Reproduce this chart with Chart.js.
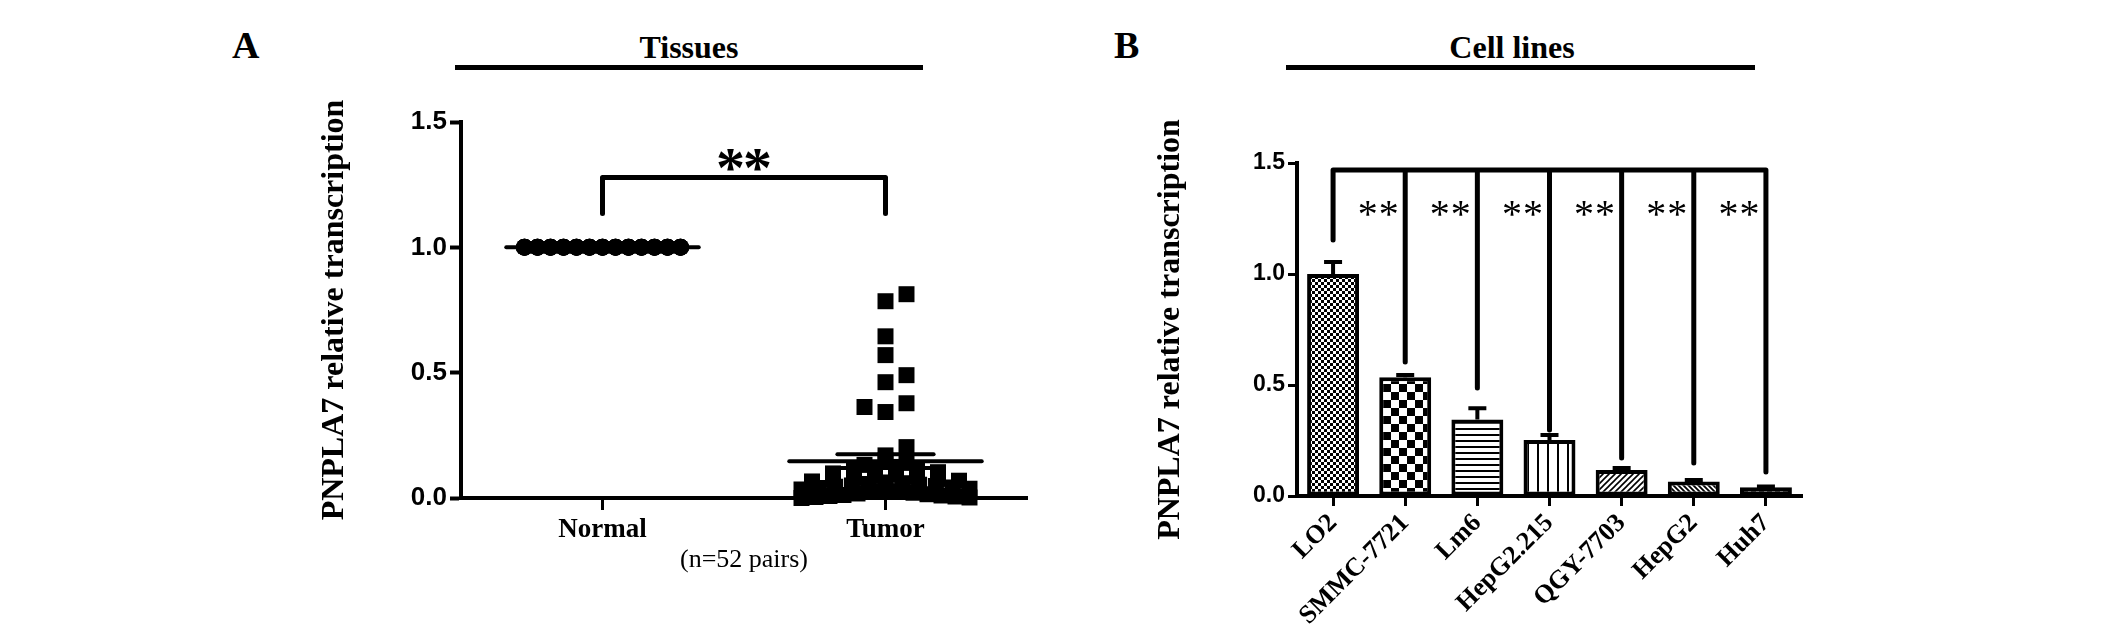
<!DOCTYPE html>
<html>
<head>
<meta charset="utf-8">
<title>PNPLA7 relative transcription</title>
<script src="https://cdn.jsdelivr.net/npm/chart.js@4.4.1/dist/chart.umd.min.js"></script>
<style>
  body { margin: 0; background: #fff; }
  #page { position: relative; width: 2126px; height: 641px; overflow: hidden; font-family: 'Liberation Serif', 'Times New Roman', serif; color: #000; }
  #page canvas { position: absolute; top: 0; }
  #chartA { left: 0; }
  #chartB { left: 1063px; }
  .panel-letter { position: absolute; font-weight: bold; font-size: 38px; line-height: 38px; }
  .panel-head { position: absolute; font-weight: bold; font-size: 32px; line-height: 32px; text-align: center; }
  .head-rule { position: absolute; height: 5px; background: #000; }
</style>
</head>
<body>
<div id="page">
  <div class="panel-letter" style="left:232px;top:26px">A</div>
  <div class="panel-head" style="left:455px;width:468px;top:31px">Tissues</div>
  <div class="head-rule" style="left:455px;width:468px;top:65px"></div>

  <div class="panel-letter" style="left:1114px;top:26px">B</div>
  <div class="panel-head" style="left:1400px;width:224px;top:31px">Cell lines</div>
  <div class="head-rule" style="left:1286px;width:469px;top:65px"></div>

  <canvas id="chartA" width="1063" height="641"></canvas>
  <canvas id="chartB" width="1063" height="641"></canvas>
</div>
<script>
// ---- data ----
const tissueGroups = ['Normal', 'Tumor'];
const normalValues = [
  1, 1, 1, 1, 1, 1, 1, 1, 1, 1, 1, 1, 1,
  1, 1, 1, 1, 1, 1, 1, 1, 1, 1, 1, 1, 1,
  1, 1, 1, 1, 1, 1, 1, 1, 1, 1, 1, 1, 1,
  1, 1, 1, 1, 1, 1, 1, 1, 1, 1, 1, 1, 1
];
const tumorValues = [
  0.813, 0.785, 0.645, 0.57, 0.49, 0.462, 0.378, 0.363, 0.343, 0.203,
  0.17, 0.15, 0.14, 0.132, 0.124, 0.118, 0.113, 0.108, 0.103, 0.098,
  0.093, 0.088, 0.084, 0.08, 0.076, 0.072, 0.069, 0.066, 0.062, 0.059,
  0.056, 0.053, 0.05, 0.048, 0.045, 0.042, 0.04, 0.037, 0.034, 0.03,
  0.027, 0.024, 0.021, 0.018, 0.015, 0.012, 0.01, 0.008, 0.006, 0.004,
  0.002, 0.0
];
const tissueBracket = [1.135, 1.279];   // leg end, bar height

const cellLines = ['LO2', 'SMMC-7721', 'Lm6', 'HepG2.215', 'QGY-7703', 'HepG2', 'Huh7'];
const cellMeans = [1.0, 0.535, 0.345, 0.252, 0.117, 0.065, 0.039];
const cellSem = [0.054, 0.01, 0.05, 0.023, 0.009, 0.007, 0.004];
const cellBracketTop = 1.468;
const cellBracketEnds = [1.153, 0.604, 0.486, 0.297, 0.171, 0.149, 0.108];
const starLevel = [1.35, 1.297];        // tissues, cell lines

const yTickValues = [0, 0.5, 1.0, 1.5];

// ---- helpers ----
function mean(a) { return a.reduce((s, v) => s + v, 0) / a.length; }
function sem(a) {
  const m = mean(a);
  const sd = Math.sqrt(a.reduce((s, v) => s + (v - m) * (v - m), 0) / (a.length - 1));
  return sd / Math.sqrt(a.length);
}
function segment(points, width) {
  return {
    type: 'line', data: points, borderColor: '#000', borderWidth: width,
    pointRadius: 0, fill: false, tension: 0, clip: false, order: 1,
    borderCapStyle: 'round', borderJoinStyle: 'round', spanGaps: false
  };
}

Chart.defaults.animation = false;
Chart.defaults.color = '#000';
Chart.defaults.plugins.legend.display = false;
Chart.defaults.plugins.tooltip.enabled = false;

const serif = "'Liberation Serif', 'Times New Roman', serif";
const sans = "'Liberation Sans', Arial, sans-serif";

// column scatter: points binned into rows, crowded rows spread and centred,
// lone points nudged sideways when they would sit on a neighbour
const swarmPlugin = {
  id: 'swarm',
  afterDatasetsUpdate(chart) {
    const bottom = chart.scales.y.getPixelForValue(0);
    chart.data.datasets.forEach((ds, di) => {
      if (!ds.swarm) return;
      const meta = chart.getDatasetMeta(di);
      const {pitch, maxSlots, rowHeight, squeeze, size} = ds.swarm;
      const rows = {};
      meta.data.forEach((el, i) => {
        const r = Math.floor((bottom - el.y) / rowHeight);
        (rows[r] = rows[r] || []).push(i);
      });
      const lone = [];
      Object.keys(rows).map(Number).sort((a, b) => a - b).forEach(r => {
        const idx = rows[r].sort((a, b) => meta.data[a].y - meta.data[b].y);
        const n = idx.length;
        if (n <= 2) {
          idx.forEach(i => {
            const el = meta.data[i];
            let off = 0;
            for (let k = 0; k <= 2 * maxSlots; k++) {
              const c = (k === 0 ? 0 : (k % 2 ? (k + 1) / 2 : -k / 2)) * pitch;
              const hit = lone.some(p => Math.abs(p.off - c) < 0.9 * size && Math.abs(p.y - el.y) < 0.9 * size);
              if (!hit) { off = c; break; }
            }
            lone.push({off, y: el.y});
            el.x += off;
          });
          return;
        }
        const k = squeeze ? n : Math.min(n, maxSlots);
        const step = (squeeze && n > maxSlots) ? pitch * (maxSlots - 1) / (n - 1) : pitch;
        const slots = [];
        for (let j = 0; j < k; j++) slots.push((j - (k - 1) / 2) * step);
        slots.sort((a, b) => Math.abs(a) - Math.abs(b) || b - a);
        idx.forEach((i, j) => { meta.data[i].x += slots[j % k]; });
      });
    });
  }
};

// significance asterisks
const starsPlugin = {
  id: 'stars',
  afterDatasetsDraw(chart, args, opts) {
    if (!opts.marks) return;
    const {ctx, scales: {x, y}} = chart;
    ctx.save();
    ctx.fillStyle = '#000';
    ctx.font = opts.font;
    ctx.textAlign = 'center';
    ctx.textBaseline = 'alphabetic';
    const m = ctx.measureText('*');
    const shift = (m.actualBoundingBoxAscent - m.actualBoundingBoxDescent) / 2;
    opts.marks.forEach(mk => {
      const px = x.getPixelForValue(mk.x);
      const py = y.getPixelForValue(mk.y) + shift;
      ctx.fillText('*', px - opts.gap / 2, py);
      ctx.fillText('*', px + opts.gap / 2, py);
    });
    ctx.restore();
  }
};

// upper SEM bars on the cell line columns
const errorBarPlugin = {
  id: 'errorBars',
  afterDatasetsDraw(chart) {
    const meta = chart.getDatasetMeta(0);
    const yScale = chart.scales.y;
    const ctx = chart.ctx;
    ctx.save();
    ctx.strokeStyle = '#000';
    ctx.lineWidth = 4;
    meta.data.forEach((bar, i) => {
      const top = yScale.getPixelForValue(cellMeans[i] + cellSem[i]);
      ctx.beginPath();
      ctx.moveTo(bar.x, bar.y);
      ctx.lineTo(bar.x, top);
      ctx.moveTo(bar.x - 9, top);
      ctx.lineTo(bar.x + 9, top);
      ctx.stroke();
    });
    ctx.restore();
  }
};

// ---------------- A: tissues ----------------
const normalMean = mean(normalValues), normalSem = sem(normalValues);
const tumorMean = mean(tumorValues), tumorSem = sem(tumorValues);
const meanHalf = 0.34, semHalf = 0.17;

function summaryLines(pos, m, e) {
  return [
    segment([{x: pos - meanHalf, y: m}, {x: pos + meanHalf, y: m}], 4),
    segment([{x: pos - semHalf, y: m + e}, {x: pos + semHalf, y: m + e}], 4),
    segment([{x: pos - semHalf, y: m - e}, {x: pos + semHalf, y: m - e}], 4),
    segment([{x: pos, y: m - e}, {x: pos, y: m + e}], 4)
  ];
}

new Chart(document.getElementById('chartA'), {
  type: 'scatter',
  data: {
    datasets: [
      {
        label: 'Normal', data: normalValues.map(v => ({x: 1, y: v})),
        pointStyle: 'circle', pointRadius: 8.5, backgroundColor: '#000', borderWidth: 0,
        clip: false, order: 2, swarm: {pitch: 13, maxSlots: 13, rowHeight: 16, squeeze: false, size: 17}
      },
      {
        label: 'Tumor', data: tumorValues.map(v => ({x: 2, y: v})),
        pointStyle: 'rect', pointRadius: 11.3, backgroundColor: '#000', borderWidth: 0,
        clip: false, order: 2, swarm: {pitch: 21, maxSlots: 9, rowHeight: 8, squeeze: true, size: 16}
      },
      ...summaryLines(1, normalMean, normalSem),
      ...summaryLines(2, tumorMean, tumorSem),
      segment([
        {x: 1, y: tissueBracket[0]}, {x: 1, y: tissueBracket[1]},
        {x: 2, y: tissueBracket[1]}, {x: 2, y: tissueBracket[0]}
      ], 5)
    ]
  },
  options: {
    responsive: false,
    devicePixelRatio: 1,
    layout: {padding: {left: 0, top: 122, right: 36, bottom: 0}},
    scales: {
      x: {
        type: 'linear', min: 0.5, max: 2.5,
        afterBuildTicks: s => { s.ticks = tissueGroups.map((g, i) => ({value: i + 1})); },
        afterFit: s => { s.height = 143; },
        grid: {drawOnChartArea: false, drawTicks: true, tickLength: 12, tickWidth: 3, tickColor: '#000'},
        border: {display: true, color: '#000', width: 4},
        ticks: {
          callback: v => tissueGroups[v - 1], maxRotation: 0, padding: 4,
          font: {family: serif, weight: 'bold', size: 27}
        },
        title: {
          display: true, text: '(n=' + tumorValues.length + ' pairs)',
          font: {family: serif, size: 26}, padding: {top: 0, bottom: 65}
        }
      },
      y: {
        min: 0, max: 1.5,
        afterBuildTicks: s => { s.ticks = yTickValues.map(v => ({value: v})); },
        afterFit: s => { s.width = 461; },
        grid: {drawOnChartArea: false, drawTicks: true, tickLength: 11, tickWidth: 4, tickColor: '#000'},
        border: {display: true, color: '#000', width: 4},
        ticks: {
          callback: v => v.toFixed(1), padding: 3,
          font: {family: sans, weight: 'bold', size: 26}
        },
        title: {
          display: true, text: 'PNPLA7 relative transcription',
          font: {family: serif, weight: 'bold', size: 32}, padding: {top: 316, bottom: 0}
        }
      }
    },
    plugins: {
      stars: {font: 'bold 58px ' + serif, gap: 27, marks: [{x: 1.5, y: starLevel[0]}]}
    }
  },
  plugins: [swarmPlugin, starsPlugin]
});

// ---------------- B: cell lines ----------------
const ctxB = document.getElementById('chartB').getContext('2d');

function makePattern(size, draw) {
  const c = document.createElement('canvas');
  c.width = c.height = size;
  const g = c.getContext('2d');
  g.fillStyle = '#fff';
  g.fillRect(0, 0, size, size);
  g.fillStyle = '#000';
  g.strokeStyle = '#000';
  draw(g, size);
  return ctxB.createPattern(c, 'repeat');
}

const barFills = [
  makePattern(6, (g) => { g.fillRect(0, 0, 3, 3); g.fillRect(3, 3, 3, 3); }),
  makePattern(16, (g) => { g.fillRect(0, 0, 8, 8); g.fillRect(8, 8, 8, 8); }),
  makePattern(6, (g) => { g.fillRect(0, 2, 6, 2); }),
  makePattern(10, (g) => { g.fillRect(4, 0, 2, 10); }),
  makePattern(6, (g) => {
    g.lineWidth = 1.6;
    g.beginPath(); g.moveTo(0, 6); g.lineTo(6, 0); g.moveTo(-3, 3); g.lineTo(3, -3); g.moveTo(3, 9); g.lineTo(9, 3); g.stroke();
  }),
  makePattern(5, (g) => {
    g.lineWidth = 1.8;
    g.beginPath(); g.moveTo(0, 0); g.lineTo(5, 5); g.moveTo(-3, 2); g.lineTo(3, 8); g.moveTo(2, -3); g.lineTo(8, 3); g.stroke();
  }),
  makePattern(8, (g) => { g.fillRect(0, 3, 5, 2); })
];

const bracketPoints = [
  {x: cellLines[0], y: cellBracketEnds[0]},
  {x: cellLines[0], y: cellBracketTop},
  {x: cellLines[cellLines.length - 1], y: cellBracketTop},
  {x: cellLines[cellLines.length - 1], y: cellBracketEnds[cellLines.length - 1]},
  {x: cellLines[cellLines.length - 1], y: null}
];
cellLines.slice(1, -1).forEach((c, i) => {
  bracketPoints.push({x: c, y: cellBracketTop}, {x: c, y: cellBracketEnds[i + 1]}, {x: c, y: null});
});

new Chart(ctxB, {
  type: 'bar',
  data: {
    labels: cellLines,
    datasets: [
      {
        data: cellMeans, backgroundColor: barFills, borderColor: '#000', borderWidth: 4,
        borderSkipped: false, categoryPercentage: 1, barPercentage: 0.72, order: 2
      },
      segment(bracketPoints, 5)
    ]
  },
  options: {
    responsive: false,
    devicePixelRatio: 1,
    layout: {padding: {left: 0, top: 163, right: 324, bottom: 0}},
    scales: {
      x: {
        afterFit: s => { s.height = 145; },
        grid: {offset: false, drawOnChartArea: false, drawTicks: true, tickLength: 10, tickWidth: 3, tickColor: '#000'},
        border: {display: true, color: '#000', width: 4},
        ticks: {
          autoSkip: false, minRotation: 45, maxRotation: 45, padding: 2,
          font: {family: serif, weight: 'bold', size: 26}
        }
      },
      y: {
        min: 0, max: 1.5,
        afterBuildTicks: s => { s.ticks = yTickValues.map(v => ({value: v})); },
        afterFit: s => { s.width = 234; },
        grid: {drawOnChartArea: false, drawTicks: true, tickLength: 9, tickWidth: 3, tickColor: '#000'},
        border: {display: true, color: '#000', width: 4},
        ticks: {
          callback: v => v.toFixed(1), padding: 3,
          font: {family: sans, weight: 'bold', size: 23}
        },
        title: {
          display: true, text: 'PNPLA7 relative transcription',
          font: {family: serif, weight: 'bold', size: 32}, padding: {top: 89, bottom: 0}
        }
      }
    },
    plugins: {
      stars: {
        font: '40px ' + serif, gap: 21,
        marks: cellLines.slice(1).map((c, i) => ({x: i + 1 - 0.375, y: starLevel[1]}))
      }
    }
  },
  plugins: [starsPlugin, errorBarPlugin]
});
</script>
</body>
</html>
